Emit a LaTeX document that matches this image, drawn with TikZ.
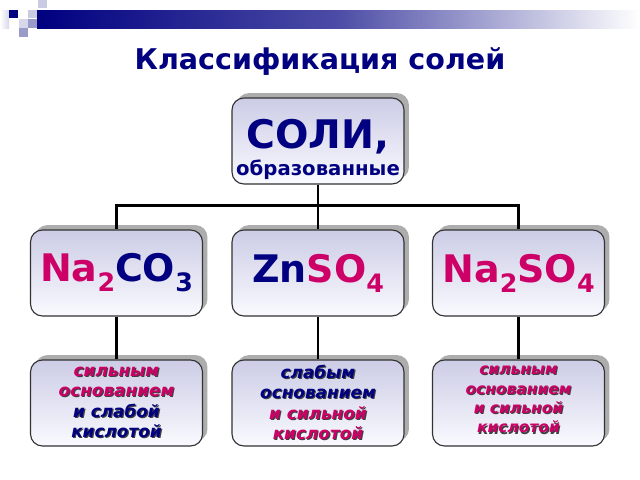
\documentclass[tikz,border=0pt]{standalone}
\usepackage{fontspec}
\setmainfont{DejaVu Sans}
\usetikzlibrary{shadows}

% text with a dark drop shadow
\newcommand{\shadetxt}[2]{\makebox[0pt][l]{\kern0.8pt\raisebox{-0.8pt}{\color{black!75}#2}}\textcolor{#1}{#2}}
% lowered index for formulas
\newcommand{\lowidx}[1]{\raisebox{-7pt}{\fontsize{18}{18}\selectfont #1}}

\begin{document}
\begin{tikzpicture}[x=0.025cm, y=-0.025cm,
    saltbox/.style={draw=boxborder, line width=0.8pt, rounded corners=0.3cm,
      top color=boxtop, bottom color=boxbottom, minimum width=4.3cm, minimum height=2.15cm,
      align=center, inner sep=2pt,
      drop shadow={shadow xshift=3.5pt, shadow yshift=3.5pt, fill=black!32, opacity=1}},
    formula/.style={font=\bfseries\fontsize{27}{30}\selectfont},
    answer/.style={font=\bfseries\itshape\fontsize{12}{14.5}\selectfont},
    link/.style={line width=1.6pt, black}]
  % Define colors
  \definecolor{saltnavy}{RGB}{0,0,128}
  \definecolor{saltpink}{RGB}{204,0,102}
  \definecolor{boxtop}{RGB}{204,204,230}
  \definecolor{boxbottom}{RGB}{250,250,255}
  \definecolor{boxborder}{RGB}{50,50,50}
  \definecolor{sqpale}{RGB}{215,215,235}
  \definecolor{sqlight}{RGB}{202,202,226}
  \definecolor{sqmid}{RGB}{155,155,202}

  \useasboundingbox (0,0) rectangle (640,480);

  % Header bar and squares
  \shade[left color=saltnavy, right color=white, middle color=saltnavy!70] (37,10) rectangle (640,28);
  \shade[left color=white, right color=sqpale] (0,10) rectangle (9,28);
  \fill[saltnavy] (9,10) rectangle (18,18);
  \fill[sqlight] (38,0) rectangle (47,8);
  \fill[sqlight] (28,10) rectangle (37,18);
  \fill[sqpale] (19,19) rectangle (28,28);
  \fill[sqmid] (28,19) rectangle (37,28);
  \fill[sqmid] (19,28) rectangle (28,37);

  % Title
  \node[font=\bfseries\fontsize{20.3}{24}\selectfont, text=saltnavy] (title) at (320,62) {Классификация солей};

  % Top box
  \node[saltbox] (soli) at (318,141) {\rule{0pt}{33pt}\textcolor{saltnavy}{\fontsize{28}{32}\selectfont\bfseries СОЛИ,}\\[3pt]
    \textcolor{saltnavy}{\fontsize{14}{16}\selectfont\bfseries образованные}};

  % Salts
  \node[saltbox, formula] (carb) at (116.5,273) {\textcolor{saltpink}{Na\lowidx{2}}\textcolor{saltnavy}{CO\lowidx{3}}};
  \node[saltbox, formula] (zinc) at (318,273) {\textcolor{saltnavy}{Zn}\textcolor{saltpink}{SO\lowidx{4}}};
  \node[saltbox, formula] (sulf) at (518.5,273) {\textcolor{saltpink}{Na\lowidx{2}SO\lowidx{4}}};

  % Base and acid
  \node[saltbox, answer] (carbtype) at (116.5,403) {\shadetxt{saltpink}{сильным}\\ \shadetxt{saltpink}{основанием}\\
    \shadetxt{saltnavy}{и слабой}\\ \shadetxt{saltnavy}{кислотой}};
  \node[saltbox, answer] (zinctype) at (318,403) {\shadetxt{saltnavy}{слабым}\\ \shadetxt{saltnavy}{основанием}\\
    \shadetxt{saltpink}{и сильной}\\ \shadetxt{saltpink}{кислотой}};
  \node[saltbox, answer, font=\bfseries\itshape\fontsize{11}{13.8}\selectfont] (sulftype) at (518.5,403)
    {\shadetxt{saltpink}{сильным}\\ \shadetxt{saltpink}{основанием}\\
    \shadetxt{saltpink}{и сильной}\\ \shadetxt{saltpink}{кислотой}\rule[-5pt]{0pt}{5pt}};

  % Connections
  \draw[link] (soli.south) -- ++(0,21) -| (carb.north);
  \draw[link] (soli.south) -- ++(0,21) -| (sulf.north);
  \draw[link] (soli.south) -- (zinc.north);
  \draw[link] (carb.south) -- (carbtype.north);
  \draw[link] (zinc.south) -- (zinctype.north);
  \draw[link] (sulf.south) -- (sulftype.north);
\end{tikzpicture}
\end{document}
